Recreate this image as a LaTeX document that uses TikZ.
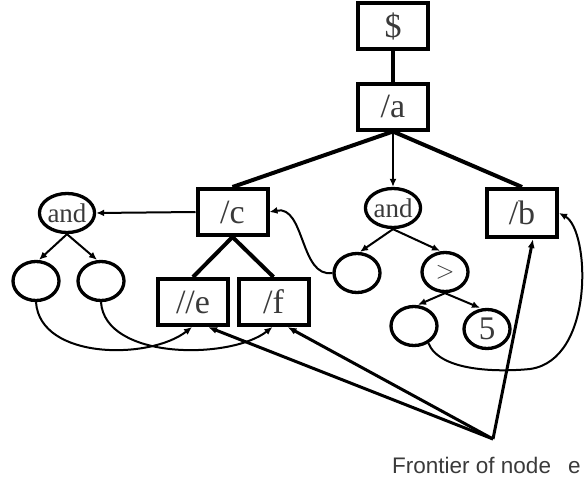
\documentclass[tikz,border=0pt]{standalone}
\usepackage{fontspec}
\setmainfont{Liberation Serif}
\newfontfamily\sansf{Liberation Sans}
\usetikzlibrary{shapes.geometric,arrows.meta}
\definecolor{txt}{HTML}{3A3A3A}
\tikzset{
  boxnode/.style={draw=black,line width=4pt,minimum width=70pt,minimum height=46pt,inner sep=0pt,text=txt,font=\fontsize{34}{34}\selectfont},
  ellnode/.style={draw=black,ellipse,line width=3.3pt,minimum width=46pt,minimum height=39pt,inner sep=0pt,text=txt,font=\fontsize{33}{33}\selectfont},
  andfont/.style={font=\fontsize{27}{27}\selectfont},
  treeline/.style={line width=4pt},
  thinarrow/.style={line width=2pt,-{Latex[length=8pt,width=7pt]}},
  frontarrow/.style={line width=3pt,-{Latex[length=9pt,width=7pt]}},
}
\begin{document}
\begin{tikzpicture}[x=1pt,y=-1pt]
\useasboundingbox (0,0) rectangle (586,482);
% boxes
\node[boxnode] (dollar) at (393,26) {\$};
\node[boxnode] (a) at (393,106.5) {/a};
\node[boxnode] (c) at (232.5,212) {/c};
\node[boxnode] (ee) at (193,302) {//e};
\node[boxnode] (f) at (273.5,302) {/f};
\node[boxnode,minimum height=48pt] (b) at (522,213) {/b};
% ellipses
\node[ellnode,andfont] (and1) at (67,213) {and};
\node[ellnode] (e1) at (36,281) {};
\node[ellnode] (e2) at (101,281) {};
\node[ellnode,andfont] (and2) at (393,208) {and};
\node[ellnode] (m1) at (357,273) {};
\node[ellnode] (gt) at (445,272) {$>$};
\node[ellnode] (l1) at (414,326) {};
\node[ellnode] (five) at (487,329) {5};
% tree lines
\draw[treeline] (dollar.south) -- (a.north);
\draw[treeline] (a.south) -- (c.north);
\draw[treeline] (a.south) -- (b.north);
\draw[treeline] (c.south) -- (ee.north);
\draw[treeline] (c.south) -- (f.north);
% thin arrows
\draw[thinarrow] (a.south) -- (and2.north);
\draw[thinarrow] (c.west) -- (and1.east);
\draw[thinarrow] (and1.south) -- ([xshift=3pt]e1.north);
\draw[thinarrow] (and1.south) -- ([xshift=-4pt]e2.north);
\draw[thinarrow] (and2.south) -- ([xshift=3pt]m1.north);
\draw[thinarrow] (and2.south) -- ([xshift=-5pt]gt.north);
\draw[thinarrow] (gt.south) -- ([xshift=4pt]l1.north);
\draw[thinarrow] (gt.south) -- ([xshift=-7pt]five.north);
% curved arrows
\draw[thinarrow] (e1.south) .. controls (40,360) and (150,360) .. ([xshift=-1pt]ee.south);
\draw[thinarrow] (e2.south) .. controls (105,360) and (230,360) .. ([xshift=-1pt]f.south);
\draw[thinarrow] (m1.west) .. controls (300,278) and (305,205) .. (c.east);
\draw[thinarrow] (l1.-50) .. controls (440,372) and (500,372) .. (530,369) .. controls (595,360) and (590,230) .. (b.east);
% frontier
\coordinate (F) at (493,439);
\draw[frontarrow] (F) -- ([xshift=15pt]ee.south);
\draw[frontarrow] (F) -- ([xshift=14pt]f.south);
\draw[frontarrow] (F) -- ([xshift=11pt]b.south);
\node[anchor=base west,inner sep=0pt,text=txt,font=\sansf\fontsize{22.5}{22.5}\selectfont] (ftext) at (392,473) {Frontier of node\hspace{17pt}e};
\end{tikzpicture}
\end{document}
